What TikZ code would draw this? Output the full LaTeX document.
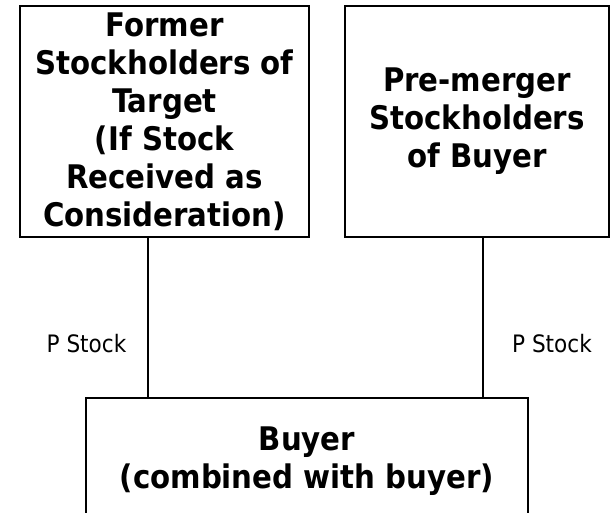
\documentclass[tikz,border=0pt]{standalone}
\usepackage{fontspec}
\setmainfont{DejaVu Sans Condensed}

\begin{document}
\begin{tikzpicture}[x=1bp,y=1bp,
    holder/.style={draw, line width=1.2bp, align=center, inner sep=0pt,
      font=\bfseries\fontsize{32.5bp}{38bp}\selectfont},
    share/.style={font=\fontsize{24bp}{28bp}\selectfont}]
	\useasboundingbox (0,0) rectangle (610,513);
	\clip (0,0) rectangle (610,513);

	% boxes
	\node[holder, minimum width=289bp, minimum height=231bp] (former) at (164.5,391.5)
		{Former\\Stockholders of\\Target\\(If Stock\\Received as\\Consideration)};
	\node[holder, minimum width=264bp, minimum height=231bp] (premerger) at (477,391.5)
		{Pre-merger\\Stockholders\\of Buyer};
	\node[holder, minimum width=442bp, minimum height=126bp] (buyer) at (307,52)
		{Buyer\\(combined with buyer)};

	% lines
	\coordinate (tapL) at (148,0);
	\coordinate (tapR) at (483,0);
	\draw[line width=1.2bp] (former.south -| tapL) -- (buyer.north -| tapL);
	\draw[line width=1.2bp] (premerger.south -| tapR) -- (buyer.north -| tapR);

	% line labels
	\node[share] (stockL) at (86.5,169) {P Stock};
	\node[share] (stockR) at (552,169) {P Stock};
\end{tikzpicture}
\end{document}
